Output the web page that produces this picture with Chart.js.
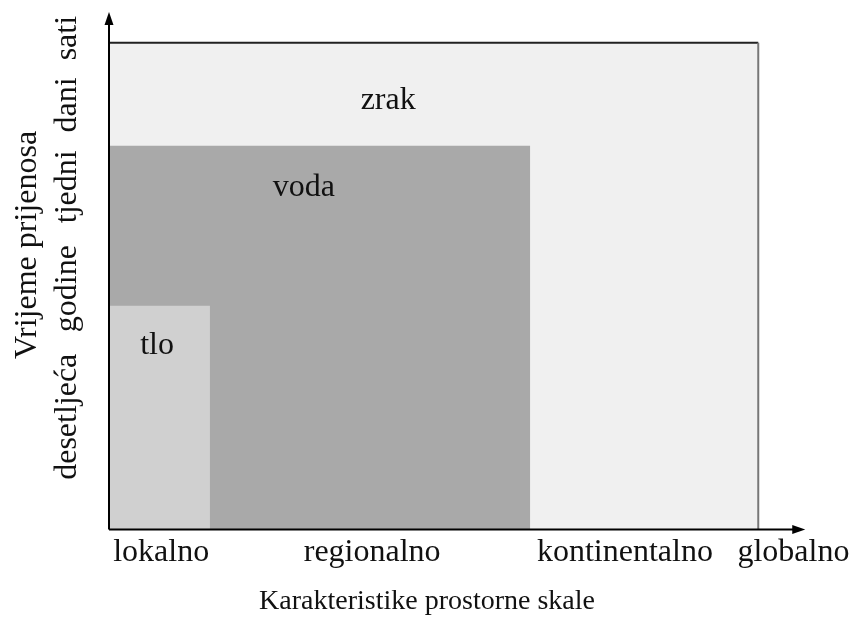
<!DOCTYPE html>
<html>
<head>
<meta charset="utf-8">
<script src="https://cdn.jsdelivr.net/npm/chart.js@4"></script>
<style>
  html, body { margin: 0; padding: 0; background: #fff; }
  #wrap { width: 854px; height: 618px; position: relative; }
</style>
</head>
<body>
<div id="wrap"><canvas id="chart"></canvas></div>
<script>
// spatial scale (x) and transfer time (y) categories
const xLabels = ['lokalno', 'regionalno', 'kontinentalno', 'globalno'];
const xLabelPos = [7.5, 37.8, 74.1, 98.3];
const yLabels = ['desetljeća', 'godine', 'tjedni', 'dani', 'sati'];
const yLabelPos = [21.9, 46.8, 66.6, 82.5, 95.5];

// media, drawn top-most first
const media = ['tlo', 'voda', 'zrak'];
const mediumReach = [14.5, 60.5, 93.25];   // spatial extent
const mediumTime = [43.5, 74.6, 94.6];     // transfer time extent

const FONT = "'Liberation Serif', 'Times New Roman', serif";
const fills = ['#d0d0d0', '#a9a9a9', '#f0f0f0'];
// where the medium names sit, in axis units
const nameAt = { tlo: [6.9, 35.7], voda: [28.0, 66.4], zrak: [40.1, 83.3] };

const datasets = media.map((name, i) => {
  const w = mediumReach[i];
  const h = mediumTime[i];
  const pts = [{ x: 0, y: h }, { x: w, y: h }];
  if (name === 'zrak') pts.push({ x: w, y: 0 });
  return {
    label: name,
    data: pts,
    fill: 'origin',
    backgroundColor: fills[i],
    borderColor: name === 'zrak' ? '#222' : 'transparent',
    borderWidth: name === 'zrak' ? 2 : 1,
    segment: name === 'zrak'
      ? { borderColor: (c) => (c.p0DataIndex === 0 ? '#222' : '#777') }
      : undefined,
    pointRadius: 0,
    tension: 0,
  };
});

const overlay = {
  id: 'overlay',
  afterDatasetsDraw(chart) {
    const ctx = chart.ctx;
    const xs = chart.scales.x;
    const ys = chart.scales.y;
    const x0 = xs.getPixelForValue(0);
    const y0 = ys.getPixelForValue(0);
    const yTop = ys.getPixelForValue(100) - 3;
    const xEnd = xs.getPixelForValue(100);

    ctx.save();
    // axes with arrow heads
    ctx.strokeStyle = '#000';
    ctx.fillStyle = '#000';
    ctx.lineWidth = 2;
    ctx.beginPath();
    ctx.moveTo(x0, y0);
    ctx.lineTo(x0, yTop + 8);
    ctx.moveTo(x0, y0);
    ctx.lineTo(xEnd - 8, y0);
    ctx.stroke();
    ctx.beginPath();
    ctx.moveTo(x0, yTop);
    ctx.lineTo(x0 - 4.5, yTop + 13);
    ctx.lineTo(x0 + 4.5, yTop + 13);
    ctx.closePath();
    ctx.fill();
    ctx.beginPath();
    ctx.moveTo(xEnd, y0);
    ctx.lineTo(xEnd - 13, y0 - 4.5);
    ctx.lineTo(xEnd - 13, y0 + 4.5);
    ctx.closePath();
    ctx.fill();

    // medium names
    ctx.font = '32px ' + FONT;
    ctx.fillStyle = '#111';
    ctx.textAlign = 'center';
    ctx.textBaseline = 'middle';
    media.forEach((name) => {
      const p = nameAt[name];
      ctx.fillText(name, xs.getPixelForValue(p[0]), ys.getPixelForValue(p[1]));
    });

    // rotated y labels
    yLabels.forEach((lab, i) => {
      ctx.save();
      ctx.translate(68, ys.getPixelForValue(yLabelPos[i]));
      ctx.rotate(-Math.PI / 2);
      ctx.fillText(lab, 0, 0);
      ctx.restore();
    });
    ctx.save();
    ctx.translate(28, 245);
    ctx.rotate(-Math.PI / 2);
    ctx.fillText('Vrijeme prijenosa', 0, 0);
    ctx.restore();
    ctx.restore();
  },
};

new Chart(document.getElementById('chart'), {
  type: 'line',
  data: { datasets: datasets },
  plugins: [overlay],
  options: {
    responsive: true,
    maintainAspectRatio: false,
    animation: false,
    layout: { padding: { top: 15, left: 0, right: 0, bottom: 0 } },
    plugins: {
      legend: { display: false },
      tooltip: { enabled: false },
      title: {
        display: true,
        position: 'bottom',
        text: 'Karakteristike prostorne skale',
        color: '#111',
        font: { family: FONT, size: 28, weight: 'normal' },
        padding: { top: 0, bottom: 0 },
      },
    },
    scales: {
      x: {
        type: 'linear',
        min: 0,
        max: 107,
        grid: { display: false, drawTicks: false },
        border: { display: false },
        afterBuildTicks: (s) => {
          s.ticks = xLabelPos.map((v) => ({ value: v }));
        },
        ticks: {
          autoSkip: false,
          maxRotation: 0,
          padding: 4,
          color: '#111',
          font: { family: FONT, size: 32 },
          callback: (v, i) => xLabels[i],
        },
        afterFit: (s) => {
          s.height = 55;
        },
      },
      y: {
        min: 0,
        max: 100,
        grid: { display: false, drawTicks: false },
        border: { display: false },
        ticks: { display: false },
        afterFit: (s) => {
          s.width = 109;
        },
      },
    },
  },
});
</script>
</body>
</html>
